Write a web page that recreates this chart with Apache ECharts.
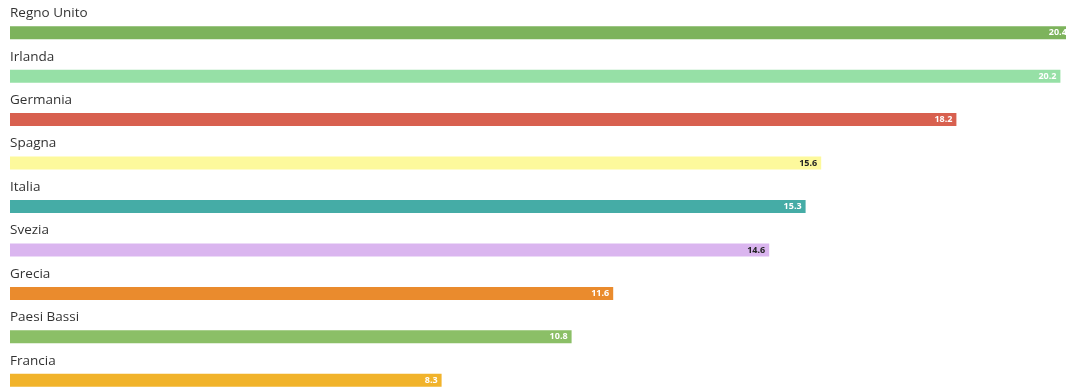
<!DOCTYPE html>
<html><head><meta charset="utf-8">
<script src="https://cdn.jsdelivr.net/npm/echarts@6/dist/echarts.min.js"></script>
<style>html,body{margin:0;padding:0;background:#fff;width:1066px;height:387px;overflow:hidden}#c{width:1066px;height:402px}</style>
</head><body><div id="c"></div>
<script>
const categories = ["Regno Unito","Irlanda","Germania","Spagna","Italia","Svezia","Grecia","Paesi Bassi","Francia"];
const values = [20.4, 20.2, 18.2, 15.6, 15.3, 14.6, 11.6, 10.8, 8.3];
const barColors = ["#7db35c","#96e0a6","#d8604f","#fdf99c","#45aca6","#dab5ef","#ea8b2d","#8bbf67","#f1b32b"];
const labelColors = ["#fff","#fff","#fff","#222","#fff","#222","#fff","#fff","#fff"];

const chart = echarts.init(document.getElementById('c'), null, {renderer:'canvas'});
chart.setOption({
  animation:false,
  grid:{left:10, width:1040, top:11, bottom:0, containLabel:false},
  xAxis:{type:'value', min:0, max:20, show:false},
  yAxis:{type:'category', data:categories, inverse:true, show:false},
  series:[
    {type:'bar', barWidth:13, clip:false,
     data: values.map((v,i)=>({value:v, itemStyle:{color:barColors[i]},
       label:{color:labelColors[i]}})),
     label:{show:true, position:'insideRight', distance:4, fontSize:9, fontWeight:'bold',
       fontFamily:'Open Sans', formatter:p=>p.value.toFixed(1)}
    },
    {type:'bar', barWidth:13, barGap:'-100%', clip:false, silent:true,
     data: values, itemStyle:{color:'rgba(0,0,0,0)'},
     label:{show:true, position:[0,-20], formatter:'{b}', color:'#333',
       fontSize:13.5, fontFamily:'Open Sans', align:'left', verticalAlign:'top'}
    }
  ]
});
</script></body></html>
